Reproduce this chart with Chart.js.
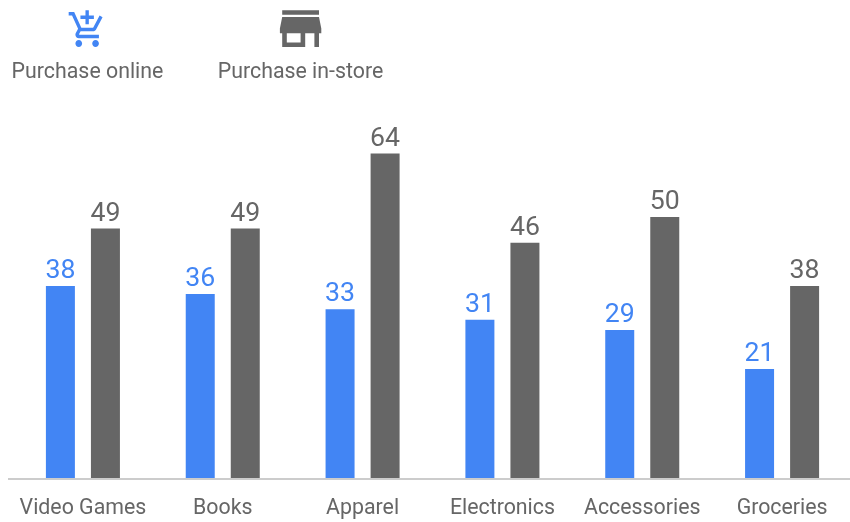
<!DOCTYPE html>
<html>
<head>
<meta charset="utf-8">
<style>
  html, body { margin: 0; padding: 0; background: #fff; overflow: hidden; }
  #wrap { position: absolute; left: 0; top: 0; width: 860px; height: 522px; }
</style>
<script src="https://cdn.jsdelivr.net/npm/chart.js@4/dist/chart.umd.min.js"></script>
</head>
<body>
<div id="wrap"><canvas id="barChart" width="860" height="522"></canvas></div>
<script>
const categories = ['Video Games', 'Books', 'Apparel', 'Electronics', 'Accessories', 'Groceries'];
const onlineValues = [37.9, 36.3, 33.3, 31.2, 29.2, 21.5];
const storeValues = [49.2, 49.2, 64, 46.4, 51.5, 37.9];
const onlineLabels = ['38', '36', '33', '31', '29', '21'];
const storeLabels = ['49', '49', '64', '46', '50', '38'];

const BLUE = '#4285f4';
const GREY = '#666666';
const FONT = 'Roboto, sans-serif';

const cartIcon = new Path2D('M11 9h2V6h3V4h-3V1h-2v3H8v2h3v3zm-4 9c-1.1 0-1.99.9-1.99 2S5.9 22 7 22s2-.9 2-2-.9-2-2-2zm10 0c-1.1 0-1.99.9-1.99 2s.89 2 1.99 2 2-.9 2-2-.9-2-2-2zm-9.83-3.25l.03-.12.9-1.63h7.45c.75 0 1.41-.41 1.75-1.03l3.86-7.01L19.42 4h-.01l-1.1 2-2.76 5H8.53l-.13-.27L6.16 6l-.95-2-.94-2H1v2h2l3.6 7.59-1.35 2.45c-.16.28-.25.61-.25.96 0 1.1.9 2 2 2h12v-2H7.42c-.13 0-.25-.11-.25-.25z');
const storeIcon = new Path2D('M20 4H4v2h16V4zm1 10v-2l-1-5H4l-1 5v2h1v6h10v-6h4v6h2v-6h1zm-9 4H6v-4h6v4z');

// value labels over the bars, plus the icon legend at the top
const decorations = {
  id: 'decorations',
  afterDatasetsDraw(chart) {
    const ctx = chart.ctx;
    ctx.save();
    ctx.textAlign = 'center';
    ctx.textBaseline = 'alphabetic';
    ctx.font = '26.67px ' + FONT;
    [onlineLabels, storeLabels].forEach((labels, i) => {
      ctx.fillStyle = i === 0 ? BLUE : GREY;
      chart.getDatasetMeta(i).data.forEach((bar, j) => {
        ctx.fillText(labels[j], bar.x, bar.y - 8);
      });
    });

    ctx.strokeStyle = '#cccccc';
    ctx.lineWidth = 2;
    ctx.beginPath();
    ctx.moveTo(8, chart.scales.y.bottom + 1);
    ctx.lineTo(850, chart.scales.y.bottom + 1);
    ctx.stroke();

    ctx.font = '21.33px ' + FONT;
    ctx.fillStyle = GREY;
    ctx.fillText('Purchase online', 87.5, 78);
    ctx.fillText('Purchase in-store', 300.5, 78);

    ctx.fillStyle = BLUE;
    ctx.save();
    ctx.translate(67, 8.5);
    ctx.scale(1.68, 1.75);
    ctx.fill(cartIcon);
    ctx.restore();

    ctx.fillStyle = GREY;
    ctx.save();
    ctx.translate(273, 1);
    ctx.scale(2.3, 2.3);
    ctx.fill(storeIcon);
    ctx.restore();
    ctx.restore();
  }
};

new Chart(document.getElementById('barChart').getContext('2d'), {
  type: 'bar',
  data: {
    labels: categories,
    datasets: [
      { label: 'Purchase online', data: onlineValues, backgroundColor: BLUE },
      { label: 'Purchase in-store', data: storeValues, backgroundColor: GREY }
    ]
  },
  options: {
    responsive: false,
    animation: false,
    layout: { padding: { left: 13, right: 8, top: 0, bottom: 0 } },
    plugins: { legend: { display: false }, tooltip: { enabled: false } },
    datasets: { bar: { categoryPercentage: 0.644, barPercentage: 0.644 } },
    scales: {
      x: {
        grid: { display: false, drawTicks: false },
        border: { display: false },
        ticks: { color: GREY, font: { family: FONT, size: 21.33 }, padding: 18, maxRotation: 0, autoSkip: false },
        afterFit(scale) { scale.height = 44; }
      },
      y: {
        display: false,
        min: 0,
        max: 94.3
      }
    }
  },
  plugins: [decorations]
});
</script>
</body>
</html>
